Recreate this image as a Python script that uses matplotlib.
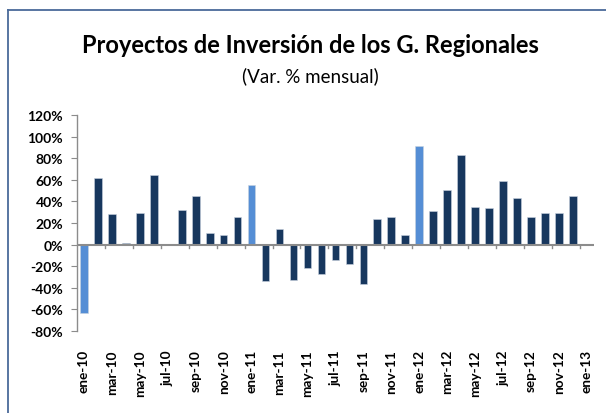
import matplotlib
matplotlib.use("Agg")
import matplotlib.pyplot as plt
from matplotlib.lines import Line2D
import numpy as np

months = ["ene-10","feb-10","mar-10","abr-10","may-10","jun-10","jul-10","ago-10","sep-10","oct-10","nov-10","dic-10",
          "ene-11","feb-11","mar-11","abr-11","may-11","jun-11","jul-11","ago-11","sep-11","oct-11","nov-11","dic-11",
          "ene-12","feb-12","mar-12","abr-12","may-12","jun-12","jul-12","ago-12","sep-12","oct-12","nov-12","dic-12",
          "ene-13"]
values = [-63.5, 62, 28, 1.5, 29.5, 64.5, -0.5, 32, 45, 11, 8.5, 25.5,
          55.5, -34, 14, -32.5, -21.5, -27, -14.5, -18, -36.5, 24, 25.5, 8.5,
          91, 31, 50.5, 83, 35, 34, 59, 43.5, 25.5, 29.5, 29.5, 45,
          0.7]

NAVY = "#17375E"
LIGHT = "#558ED5"
colors = [LIGHT if m.startswith("ene") else NAVY for m in months]

plt.rcParams['font.family'] = ['Lato', 'DejaVu Sans']

fig = plt.figure(figsize=(6.06, 4.14), dpi=100)
ax = fig.add_axes([0.127, 0.198, 0.853, 0.522])

x = np.arange(len(months))
ax.bar(x, values, width=0.55, color=colors, edgecolor="#c9d3e0", linewidth=0.4, zorder=3)

ax.set_xlim(-0.5, len(months) - 0.5)
ax.set_ylim(-80, 120)
yt = np.arange(-80, 121, 20)
ax.set_yticks(yt)
ax.set_yticklabels([f"{v}%" for v in yt], fontsize=10, fontweight="bold")

for s in ["top", "right", "bottom"]:
    ax.spines[s].set_visible(False)
ax.spines["left"].set_color("#8c8c8c")
ax.spines["left"].set_linewidth(1.0)
ax.axhline(0, color="#8c8c8c", linewidth=1.5, zorder=4)

ax.set_xticks(x[::2])
ax.set_xticklabels(months[::2], rotation=90, fontsize=9.8, fontweight="bold")
ax.tick_params(axis="x", length=0, pad=13)
ax.tick_params(axis="y", length=4, color="#8c8c8c", pad=6)

# category-boundary tick marks every two categories on the zero line
for b in np.arange(-0.5, len(months), 2)[1:]:
    ax.plot([b, b], [0, -3.5], color="#8c8c8c", linewidth=1.0, zorder=4, clip_on=False)

fig.text(0.512, 0.89, "Proyectos de Inversión de los G. Regionales", ha="center", va="center",
         fontsize=17, fontweight="bold")
fig.text(0.512, 0.815, "(Var. % mensual)", ha="center", va="center", fontsize=13.5)

border = "#4a6a9a"
fig.add_artist(Line2D([0.0125, 1.0], [0.973, 0.973], transform=fig.transFigure, color=border, linewidth=1.3))
fig.add_artist(Line2D([0.0125, 0.0125], [0.0, 0.973], transform=fig.transFigure, color=border, linewidth=1.3))

fig.savefig("out.png", dpi=100)
